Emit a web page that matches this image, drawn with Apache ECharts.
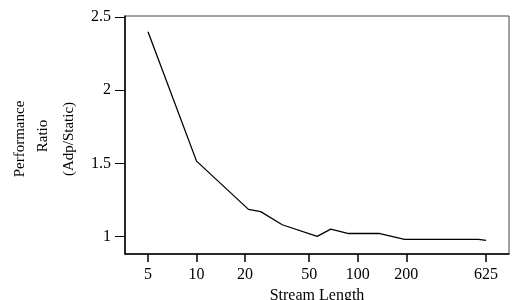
<!DOCTYPE html>
<html>
<head>
<meta charset="utf-8">
<script src="https://cdn.jsdelivr.net/npm/echarts@6/dist/echarts.min.js"></script>
<style>html,body{margin:0;padding:0;background:#fff}#c{width:515px;height:300px}</style>
</head>
<body>
<div id="c"></div>
<script>
var streamLength = [5, 10, 21, 25, 34, 56, 68, 88, 137, 195, 560, 625];
var perfRatio = [2.40, 1.515, 1.185, 1.17, 1.08, 1.0, 1.05, 1.02, 1.02, 0.98, 0.98, 0.973];
var xTicks = [5, 10, 20, 50, 100, 200, 625];
var yTicks = [1, 1.5, 2, 2.5];

var font = '"Liberation Serif", "Times New Roman", serif';
var chart = echarts.init(document.getElementById('c'));
var pts = streamLength.map(function (x, i) { return [x, perfRatio[i]]; });
chart.setOption({
  animation: false,
  grid: { left: 125, right: 6, top: 16, bottom: 46, outerBoundsMode: 'none', containLabel: false, show: true, borderColor: '#444', borderWidth: 1 },
  xAxis: {
    type: 'log', logBase: 10, min: 3.6, max: 867,
    name: 'Stream Length', nameLocation: 'middle', nameGap: 31,
    nameTextStyle: { fontFamily: font, fontSize: 16, color: '#000' },
    axisLine: { lineStyle: { color: '#000', width: 1.5 } },
    axisTick: { show: true, length: 8, inside: false, customValues: xTicks, lineStyle: { color: '#000', width: 1.5 } },
    axisLabel: { customValues: xTicks, fontFamily: font, fontSize: 16, color: '#000', margin: 13 },
    splitLine: { show: false }, minorTick: { show: false }
  },
  yAxis: {
    type: 'value', min: 0.88, max: 2.507,
    axisLine: { show: true, lineStyle: { color: '#000', width: 1.5 } },
    axisTick: { show: true, length: 10, customValues: yTicks, lineStyle: { color: '#000', width: 1 } },
    axisLabel: { customValues: yTicks, fontFamily: font, fontSize: 16, color: '#000', margin: 14 },
    splitLine: { show: false }
  },
  graphic: [
    { type: 'text', x: 20, y: 139, rotation: Math.PI / 2, style: { text: 'Performance', font: '15px ' + font, fill: '#000', textAlign: 'center', textVerticalAlign: 'middle' } },
    { type: 'text', x: 43, y: 136, rotation: Math.PI / 2, style: { text: 'Ratio', font: '15px ' + font, fill: '#000', textAlign: 'center', textVerticalAlign: 'middle' } },
    { type: 'text', x: 69, y: 139, rotation: Math.PI / 2, style: { text: '(Adp/Static)', font: '15px ' + font, fill: '#000', textAlign: 'center', textVerticalAlign: 'middle' } }
  ],
  series: [{
    type: 'line', data: pts, symbol: 'none',
    lineStyle: { color: '#000', width: 1.3 }
  }]
});
</script>
</body>
</html>
